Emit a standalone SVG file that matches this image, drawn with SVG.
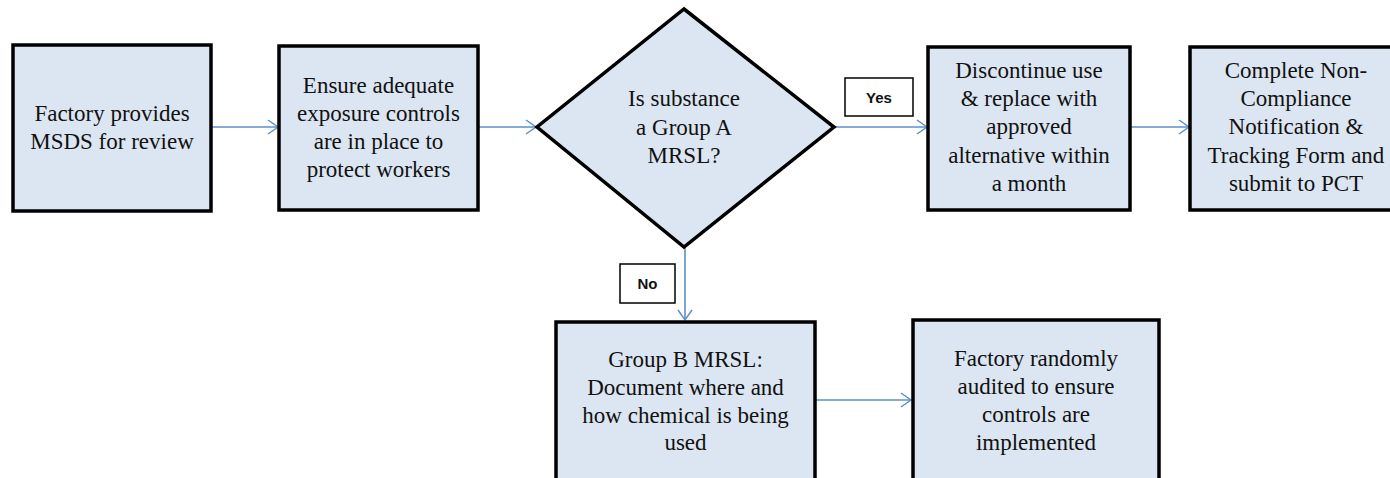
<svg xmlns="http://www.w3.org/2000/svg" width="1390" height="478" viewBox="0 0 1390 478">
  <defs>
    <marker id="arrow" markerWidth="14" markerHeight="16" refX="11" refY="8" orient="auto" markerUnits="userSpaceOnUse">
      <path d="M1,1 L11,8 L1,15" fill="none" stroke="#5f8fcb" stroke-width="1.5"/>
    </marker>
    <style>
      .node { fill: #dce6f2; stroke: #000; stroke-width: 3.5; }
      .txt { font-family: "Liberation Serif", "Times New Roman", serif; font-size: 23px; fill: #111; text-anchor: middle; }
      .conn { stroke: #5f8fcb; stroke-width: 1.6; fill: none; marker-end: url(#arrow); }
      .tag { fill: #fff; stroke: #000; stroke-width: 1.5; }
      .tagtxt { font-family: "Liberation Sans", Arial, sans-serif; font-size: 15px; font-weight: bold; fill: #111; text-anchor: middle; }
    </style>
  </defs>
  <rect width="1390" height="478" fill="#fff"/>

  <!-- connectors -->
  <g id="connectors">
    <line class="conn" x1="211" y1="127" x2="278" y2="127"/>
    <line class="conn" x1="478" y1="127" x2="536" y2="127"/>
    <line class="conn" x1="834" y1="127" x2="927" y2="127"/>
    <line class="conn" x1="1130" y1="127" x2="1189" y2="127"/>
    <line class="conn" x1="685" y1="247" x2="685" y2="320"/>
    <line class="conn" x1="815" y1="400" x2="911" y2="400"/>
  </g>

  <g id="node-msds">
    <rect class="node" x="13" y="45" width="198" height="166"/>
    <text class="txt" x="112" y="121">Factory provides</text>
    <text class="txt" x="112" y="149">MSDS for review</text>
  </g>

  <g id="node-controls">
    <rect class="node" x="279" y="46" width="199" height="164"/>
    <text class="txt" x="378.5" y="93">Ensure adequate</text>
    <text class="txt" x="378.5" y="121">exposure controls</text>
    <text class="txt" x="378.5" y="149">are in place to</text>
    <text class="txt" x="378.5" y="177">protect workers</text>
  </g>

  <g id="node-decision">
    <polygon class="node" points="684,9 834,127 684,247 537,127"/>
    <text class="txt" x="684" y="106">Is substance</text>
    <text class="txt" x="684" y="135">a Group A</text>
    <text class="txt" x="684" y="163">MRSL?</text>
  </g>

  <g id="node-discontinue">
    <rect class="node" x="928" y="47" width="202" height="163"/>
    <text class="txt" x="1029" y="78">Discontinue use</text>
    <text class="txt" x="1029" y="106">&amp; replace with</text>
    <text class="txt" x="1029" y="134">approved</text>
    <text class="txt" x="1029" y="163">alternative within</text>
    <text class="txt" x="1029" y="191">a month</text>
  </g>

  <g id="node-notification">
    <rect class="node" x="1190" y="47" width="202" height="163"/>
    <text class="txt" x="1296" y="78">Complete Non-</text>
    <text class="txt" x="1296" y="106">Compliance</text>
    <text class="txt" x="1296" y="134">Notification &amp;</text>
    <text class="txt" x="1296" y="163">Tracking Form and</text>
    <text class="txt" x="1296" y="191">submit to PCT</text>
  </g>

  <g id="node-groupb">
    <rect class="node" x="556" y="322" width="259" height="170"/>
    <text class="txt" x="685.5" y="367">Group B MRSL:</text>
    <text class="txt" x="685.5" y="395">Document where and</text>
    <text class="txt" x="685.5" y="423">how chemical is being</text>
    <text class="txt" x="685.5" y="450">used</text>
  </g>

  <g id="node-audit">
    <rect class="node" x="913" y="320" width="246" height="172"/>
    <text class="txt" x="1036" y="366">Factory randomly</text>
    <text class="txt" x="1036" y="394">audited to ensure</text>
    <text class="txt" x="1036" y="422">controls are</text>
    <text class="txt" x="1036" y="450">implemented</text>
  </g>

  <g id="label-yes">
    <rect class="tag" x="845" y="78" width="68" height="38"/>
    <text class="tagtxt" x="879" y="103">Yes</text>
  </g>

  <g id="label-no">
    <rect class="tag" x="620" y="264" width="55" height="39"/>
    <text class="tagtxt" x="647.5" y="289">No</text>
  </g>
</svg>
